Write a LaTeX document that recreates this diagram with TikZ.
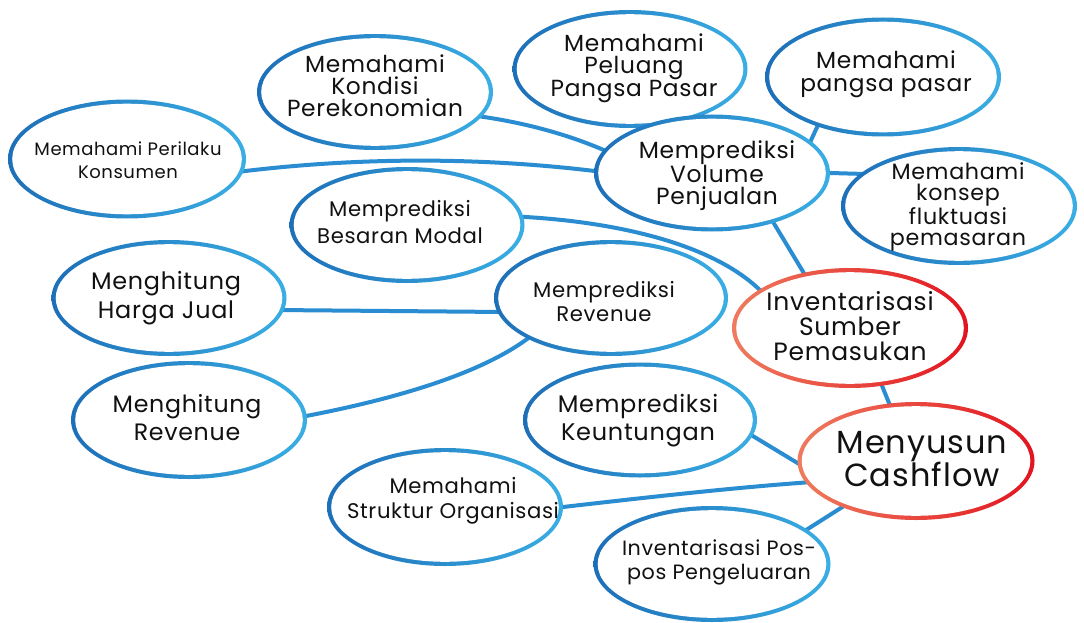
\documentclass[tikz,border=0pt]{standalone}
\usepackage{fontspec}
\setmainfont[LetterSpace=3]{Poppins}
\usetikzlibrary{shapes.geometric}
\pgfdeclarelayer{bg}
\pgfsetlayers{bg,main}
\newcommand\myfs[2]{\fontsize{#1}{#2}\selectfont}
\definecolor{bD}{HTML}{1D6FB8}
\definecolor{bL}{HTML}{3AAEE4}
\definecolor{bM}{HTML}{2A8DD2}
\definecolor{rD}{HTML}{E2141F}
\definecolor{rL}{HTML}{EF7B5E}
\definecolor{ink}{HTML}{111111}
\tikzset{
  ring/.style n args={4}{ellipse, minimum width=#1, minimum height=#2,
    inner sep=0pt, outer sep=0pt, left color=#3, right color=#4,
    path picture={\fill[white] (path picture bounding box.center)
      ellipse [x radius=#1/2-4.2pt, y radius=#2/2-4.2pt];}},
  ringB/.style 2 args={ring={#1}{#2}{bD}{bL}},
  ringR/.style 2 args={ring={#1}{#2}{rL}{rD}},
  txt/.style={align=center, inner sep=0pt, text=ink, anchor=base},
  conn/.style={draw=bM, line width=4pt, shorten <=-3pt, shorten >=-3pt}
}
\begin{document}
\begin{tikzpicture}[x=1pt, y=-1pt]
\useasboundingbox (0,0) rectangle (1084,623);
% ellipses
\node[ringB={238pt}{119pt}] (perilaku) at (127,159) {};
\node[ringB={236pt}{116pt}] (kondisi) at (375,92) {};
\node[ringB={235pt}{118pt}] (peluang) at (630,69) {};
\node[ringB={236pt}{119pt}] (pangsa) at (883,77) {};
\node[ringB={236pt}{117pt}] (volume) at (712,173) {};
\node[ringB={236pt}{118pt}] (fluktuasi) at (959,206) {};
\node[ringB={235pt}{116pt}] (modal) at (407,225) {};
\node[ringB={235pt}{116pt}] (harga) at (169,298) {};
\node[ringB={234pt}{116pt}] (revenue) at (611,298) {};
\node[ringR={236pt}{120pt}] (sumber) at (850,328) {};
\node[ringB={236pt}{118pt}] (mrevenue) at (189,420) {};
\node[ringB={234pt}{115pt}] (keuntungan) at (640,420) {};
\node[ringR={237pt}{118pt}] (cashflow) at (916,461) {};
\node[ringB={236pt}{118pt}] (struktur) at (445,507) {};
\node[ringB={237pt}{116pt}] (pospos) at (712,564) {};
% texts (anchored at the baseline of the last line)
\node[txt, font=\myfs{18}{22}] (perilaku-t) at (128,178) {Memahami Perilaku\\Konsumen};
\node[txt, font=\myfs{23.3}{22}] (kondisi-t) at (375,117) {Memahami\\Kondisi\\Perekonomian};
\node[txt, font=\myfs{23.3}{22}] (peluang-t) at (634,97) {Memahami\\Peluang\\Pangsa Pasar};
\node[txt, font=\myfs{23.3}{23}] (pangsa-t) at (886,92) {Memahami\\pangsa pasar};
\node[txt, font=\myfs{23.4}{21}] (volume-t) at (717,204) {Memprediksi\\Volume\\Penjualan};
\node[txt, font=\myfs{22.2}{20.7}] (fluktuasi-t) at (958,245) {Memahami\\konsep\\fluktuasi\\pemasaran};
\node[txt, font=\myfs{21.2}{27}] (modal-t) at (400,243) {Memprediksi\\Besaran Modal};
\node[txt, font=\myfs{23.9}{29}] (harga-t) at (166,318) {Menghitung\\Harga Jual};
\node[txt, font=\myfs{21.2}{24}] (revenue-t) at (604,321) {Memprediksi\\Revenue};
\node[txt, font=\myfs{25}{25}] (sumber-t) at (850,360) {Inventarisasi\\Sumber\\Pemasukan};
\node[txt, font=\myfs{23.7}{28}] (mrevenue-t) at (187,440) {Menghitung\\Revenue};
\node[txt, font=\myfs{24}{28}] (keuntungan-t) at (638,440) {Memprediksi\\Keuntungan};
\node[txt, font=\myfs{32}{33}] (cashflow-t) at (922,486) {Menyusun\\Cashflow};
\node[txt, font=\myfs{21.2}{25}] (struktur-t) at (453,518) {Memahami\\Struktur Organisasi};
\node[txt, font=\myfs{20.7}{24}] (pospos-t) at (719,579) {Inventarisasi Pos-\\pos Pengeluaran};
% connectors
\begin{pgfonlayer}{bg}
\fill[white] (0,0) rectangle (1084,623);
\draw[conn] (perilaku.-6) .. controls (360,157) and (480,157) .. (volume.179);
\draw[conn] (kondisi.-13) .. controls (520,122) and (565,133) .. (volume.168);
\draw[conn] (modal.4) .. controls (620,222) and (715,245) .. (sumber.157);
\draw[conn] (harga.-6) -- (revenue.187);
\draw[conn] (mrevenue.2) .. controls (390,400) and (480,375) .. (revenue.206);
\draw[conn] (volume.18) -- (pangsa.217);
\draw[conn] (volume.0) -- (fluktuasi.162);
\draw[conn] (volume.-39) -- (sumber.130);
\draw[conn] (sumber.-61) -- (cashflow.115);
\draw[conn] (keuntungan.-8) -- (cashflow.181);
\draw[conn] (struktur.0) .. controls (650,497) and (730,488) .. (cashflow.191);
\draw[conn] (pospos.20) -- (cashflow.212);
\end{pgfonlayer}
\end{tikzpicture}
\end{document}
